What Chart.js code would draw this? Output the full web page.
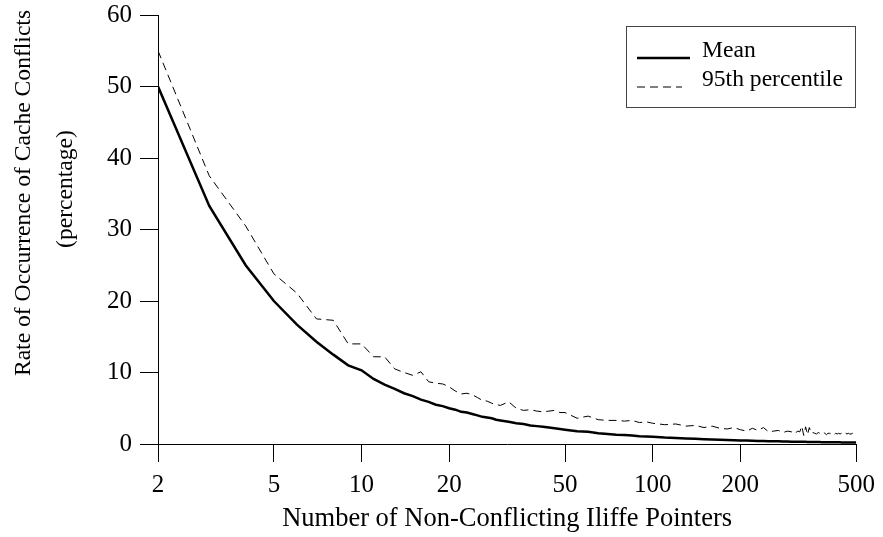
<!DOCTYPE html>
<html lang="en">
<head>
    <meta charset="UTF-8"/>
    <title>Cache Conflicts</title>
    <script src="https://cdn.jsdelivr.net/npm/chart.js"></script>
    <style>
        body { margin: 0; background: #fff; }
        .chart-box { width: 883px; height: 537px; position: relative; }
    </style>
</head>
<body>
    <div class="chart-box">
        <canvas id="conflictChart"></canvas>
    </div>
    <script>
        // number of non-conflicting pointers (x)
        const pointers = [
            2, 3, 4, 5, 6, 7, 8, 9, 10, 11, 12, 13, 14, 15, 16, 17, 18, 19, 20,
            21, 22, 23, 24, 25, 26, 27, 28, 29, 30,
            32, 34, 36, 38, 40, 42, 44, 46, 48, 50,
            55, 60, 65, 70, 75, 80, 85, 90, 95, 100,
            110, 120, 130, 140, 150, 160, 170, 180, 190, 200,
            210, 220, 230, 240, 250, 260, 270, 280, 290, 300,
            305, 310, 315, 320, 325, 330, 335, 340, 345, 350,
            355, 360, 365, 370, 375, 380, 385, 390, 395, 400,
            405, 410, 415, 420, 425, 430, 435, 440, 445, 450,
            455, 460, 465, 470, 475, 480, 485, 490, 495, 500
        ];
        const meanRate = [
            50.0, 33.3, 25.0, 20.0, 16.7, 14.3, 12.5, 11.0, 10.3, 9.1, 8.3, 7.7, 7.1, 6.7, 6.2, 5.9, 5.5, 5.3, 5.0,
            4.8, 4.5, 4.4, 4.2, 4.0, 3.8, 3.7, 3.6, 3.4, 3.3,
            3.1, 2.9, 2.8, 2.6, 2.5, 2.4, 2.3, 2.2, 2.1, 2.0,
            1.8, 1.7, 1.5, 1.4, 1.3, 1.25, 1.2, 1.1, 1.05, 1.0,
            0.9, 0.85, 0.78, 0.72, 0.67, 0.63, 0.59, 0.56, 0.53, 0.5,
            0.48, 0.45, 0.43, 0.42, 0.4, 0.38, 0.37, 0.36, 0.34, 0.33,
            0.33, 0.32, 0.32, 0.31, 0.31, 0.3, 0.3, 0.29, 0.29, 0.29,
            0.28, 0.28, 0.27, 0.27, 0.27, 0.26, 0.26, 0.26, 0.25, 0.25,
            0.25, 0.24, 0.24, 0.24, 0.24, 0.23, 0.23, 0.23, 0.22, 0.22,
            0.22, 0.22, 0.22, 0.21, 0.21, 0.21, 0.21, 0.2, 0.2, 0.2
        ];
        const p95Rate = [
            55.0, 37.5, 30.5, 23.8, 21.1, 17.5, 17.3, 14.0, 14.0, 12.2, 12.2, 10.5, 10.0, 9.6, 10.1, 8.7, 8.5, 8.4, 8.0,
            7.4, 7.0, 7.1, 6.9, 6.5, 6.1, 6.0, 5.7, 5.5, 5.4,
            5.9, 5.0, 4.7, 4.8, 4.6, 4.5, 4.6, 4.7, 4.4, 4.4,
            3.6, 3.9, 3.4, 3.3, 3.3, 3.2, 3.3, 3.0, 3.1, 2.9,
            2.7, 2.8, 2.5, 2.6, 2.3, 2.5, 2.2, 2.1, 2.3, 2.0,
            1.8, 2.2, 1.9, 2.3, 1.7, 1.8, 1.9, 1.6, 1.8, 1.7,
            1.9, 1.6, 1.8, 1.7, 2.5, 1.2, 2.4, 1.3, 2.3, 1.5,
            1.6, 1.5, 1.4, 1.6, 1.5, 1.4, 1.6, 1.5, 1.3, 1.5,
            1.5, 1.4, 1.2, 1.3, 1.5, 1.4, 1.5, 1.4, 1.5, 1.3,
            1.4, 1.5, 1.4, 1.5, 1.4, 1.4, 1.5, 1.4, 1.3, 1.4
        ];
        const xTicks = [2, 5, 10, 20, 50, 100, 200, 500];
        const seriesNames = ['Mean', '95th percentile'];
        const xTitle = 'Number of Non-Conflicting Iliffe Pointers';
        const yTitle = ['Rate of Occurrence of Cache Conflicts', '(percentage)'];

        const serif = "'Liberation Serif', 'Times New Roman', serif";

        // titolo asse y e legenda disegnati a mano
        const extras = {
            id: 'extras',
            afterDraw(chart) {
                const c = chart.ctx;
                c.save();
                c.fillStyle = '#000';
                c.font = '23.6px ' + serif;
                c.textAlign = 'center';
                c.textBaseline = 'middle';
                [[24, 193], [66, 189]].forEach((pos, i) => {
                    c.save();
                    c.translate(pos[0], pos[1]);
                    c.rotate(-Math.PI / 2);
                    c.fillText(yTitle[i], 0, 0);
                    c.restore();
                });

                // legenda
                c.strokeStyle = '#444';
                c.lineWidth = 1;
                c.strokeRect(626.5, 26.5, 229, 81);
                c.textAlign = 'left';
                c.font = '23.6px ' + serif;
                chart.data.datasets.forEach((ds, i) => {
                    const y = i === 0 ? 58 : 87;
                    c.beginPath();
                    c.strokeStyle = ds.borderColor;
                    c.lineWidth = ds.borderWidth;
                    c.setLineDash(ds.borderDash || []);
                    c.moveTo(637, y);
                    c.lineTo(i === 0 ? 690 : 682, y);
                    c.stroke();
                    c.setLineDash([]);
                    c.fillText(ds.label, 702, i === 0 ? 51 : 80);
                });
                c.restore();
            }
        };

        const ctx = document.getElementById('conflictChart').getContext('2d');
        new Chart(ctx, {
            type: 'line',
            data: {
                datasets: [{
                    label: seriesNames[0],
                    data: pointers.map((n, i) => ({ x: n, y: meanRate[i] })),
                    borderColor: '#000',
                    borderWidth: 2.5,
                    pointRadius: 0,
                    tension: 0
                }, {
                    label: seriesNames[1],
                    data: pointers.map((n, i) => ({ x: n, y: p95Rate[i] })),
                    borderColor: '#000',
                    borderWidth: 1,
                    borderDash: [8, 5],
                    pointRadius: 0,
                    tension: 0
                }]
            },
            options: {
                responsive: true,
                maintainAspectRatio: false,
                animation: false,
                layout: { padding: { left: 0, top: 15, right: 21, bottom: 0 } },
                plugins: { legend: { display: false }, tooltip: { enabled: false } },
                scales: {
                    x: {
                        type: 'logarithmic',
                        min: 2,
                        max: 500,
                        afterBuildTicks: scale => { scale.ticks = xTicks.map(v => ({ value: v })); },
                        afterFit: scale => { scale.height = 93; },
                        ticks: {
                            autoSkip: false,
                            maxRotation: 0,
                            padding: 8,
                            color: '#000',
                            font: { family: serif, size: 25 },
                            callback: v => String(v)
                        },
                        grid: { drawOnChartArea: false, tickLength: 18, color: '#000' },
                        border: { color: '#000' },
                        title: {
                            display: true,
                            text: xTitle,
                            color: '#000',
                            font: { family: serif, size: 26.5 },
                            padding: { top: 0, bottom: 2 }
                        }
                    },
                    y: {
                        min: 0,
                        max: 60,
                        afterFit: scale => { scale.width = 158; },
                        ticks: {
                            stepSize: 10,
                            padding: 8,
                            color: '#000',
                            font: { family: serif, size: 25, lineHeight: 0.5 }
                        },
                        grid: { drawOnChartArea: false, tickLength: 18, color: '#000' },
                        border: { color: '#000' }
                    }
                }
            },
            plugins: [extras]
        });
    </script>
</body>
</html>
